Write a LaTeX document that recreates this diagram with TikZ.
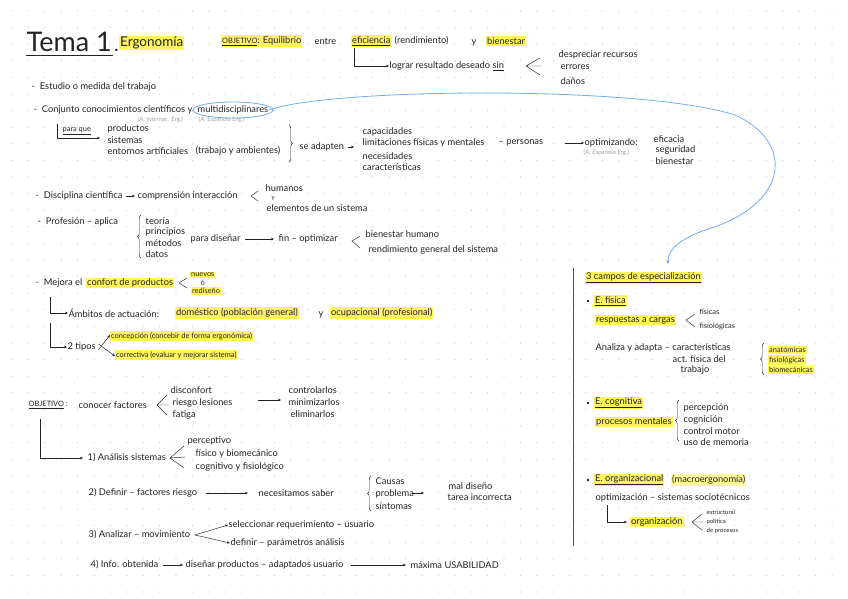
\documentclass[tikz,border=0pt]{standalone}
\usepackage{fontspec}
\setmainfont{Lato}
\usetikzlibrary{arrows.meta,decorations.pathreplacing}
\definecolor{ink}{RGB}{35,35,35}
\definecolor{hly}{RGB}{255,244,92}
\definecolor{dotc}{RGB}{200,200,200}
\definecolor{bluec}{RGB}{110,175,240}
\definecolor{grayt}{RGB}{160,160,160}
\newcommand\fs{\fontsize{9.3}{10}\selectfont}
\newcommand\fss{\fontsize{7.4}{8}\selectfont}
\newcommand\fsg{\fontsize{6}{7}\selectfont}
\tikzset{
 t/.style={anchor=west, inner sep=0.5pt, text=ink, font=\fs},
 hl/.style={t, fill=hly, inner xsep=1pt, inner ysep=1.2pt},
 gt/.style={t, text=grayt, font=\fsg},
 ln/.style={draw=ink, line width=0.45pt},
 ar/.style={ln, -{Stealth[length=3pt,width=2.6pt]}},
 brc/.style={ln, decorate, decoration={brace, amplitude=3.5pt}},
 bl/.style={draw=bluec, line width=0.8pt},
}
\begin{document}
\begin{tikzpicture}[x=1pt,y=-1pt]
\useasboundingbox (0,0) rectangle (848,599);
\fill[white] (0,0) rectangle (848,599);
\foreach \i in {0,...,50} \foreach \j in {0,...,35} \fill[dotc] ({12+16.4*\i},{11+16.6*\j}) circle (0.6);

% ---------- title
\node[t, font=\fontsize{27}{27}\selectfont] (tema) at (26,42) {Tema 1};
\draw[ink, line width=1.6pt] ([yshift=-3pt]tema.south west) -- ([yshift=-3pt]tema.south east);
\node[t, font=\fontsize{20}{20}\selectfont, anchor=base west] (punto) at ([xshift=1pt]tema.base east) {.};
\node[hl, font=\fontsize{13.5}{14}\selectfont] (ergo) at (119,43) {Ergonomía};

% ---------- objetivo 1
\node[hl] (obj1) at (221,41) {{\fss\underline{OBJETIVO}}: Equilibrio};
\node[t] (entre) at (314,41) {entre};
\node[hl] (efic) at (351,41) {\underline{eficiencia}};
\node[t] (rend) at (394,41) {(rendimiento)};
\node[t] (y1) at (471,43) {y};
\node[hl] (bien) at (486,41) {bienestar};
\node[t] (lograr) at (389,66) {lograr resultado deseado \underline{sin}};
\draw[ar] ([xshift=3pt,yshift=-1pt]efic.south west) |- (lograr.west);
\coordinate (sinf) at (526,66);
\coordinate (sf1) at (540,58);
\coordinate (sf2) at (541,66);
\coordinate (sf3) at (540,75);
\draw[ln] (sinf) -- (sf1) (sinf) -- (sf2) (sinf) -- (sf3);
\node[t] (desp) at (558,55) {despreciar recursos};
\node[t] (errores) at (560,67) {errores};
\node[t] (danos) at (560,81) {daños};

% ---------- estudio / conjunto
\node[t] (estudio) at (31,87) {-\ \ Estudio o medida del trabajo};
\node[t] (conj) at (33,110) {-\ \ Conjunto conocimientos científicos y};
\node[t] (multi) at (197,110) {multidisciplinares};
\draw[bl] (multi.center) ellipse (40 and 8);
\node[gt] (aie) at (137,120) {(A. Internac. Erg.)};
\node[gt] (aee) at (198,120) {(A. Española Erg.)};
\coordinate (pq0) at (57,124);
\coordinate (pq1) at (100,138);
\draw[ar] (pq0) |- (pq1);
\node[t, font=\fss] (paraque) at (62,131) {\underline{para que}};
\node[t] (productos) at (107,129) {productos};
\node[t] (sistemas) at (107,140) {sistemas};
\node[t] (entornos) at (107,151) {entornos artificiales};
\node[t] (trabamb) at (195,151) {(trabajo y ambientes)};
\coordinate (br1a) at (289,125);
\coordinate (br1b) at (289,162);
\draw[brc] (br1a) -- (br1b);
\node[t] (seadapt) at (299,147) {se adapten};
\node[t] (capac) at (362,132) {capacidades};
\node[t] (limit) at (362,143) {limitaciones físicas y mentales};
\node[t] (personas) at (498,143) {– personas};
\node[t] (necesid) at (362,156) {necesidades};
\node[t] (caract) at (362,167) {características};
\coordinate (sa1) at (354,147);
\draw[ar] ([xshift=3pt]seadapt.east) -- (sa1);
\coordinate (op0) at (565,143);
\node[t] (optim) at (584,143) {optimizando:};
\draw[ar] (op0) -- (optim.west);
\node[gt] (aee2) at (583,153) {(A. Española Erg.)};
\node[t] (eficacia) at (653,139) {eficacia};
\node[t] (segur) at (655,150) {seguridad};
\node[t] (bien2) at (655,161) {bienestar};

% ---------- disciplina
\node[t] (discip) at (35,196) {-\ \ Disciplina científica};
\node[t] (compr) at (137,196) {comprensión interacción};
\draw[ar] ([xshift=3pt]discip.east) -- ([xshift=-2pt]compr.west);
\coordinate (dc0) at (251,196);
\coordinate (dc1) at (258,191);
\coordinate (dc2) at (258,201);
\draw[ln] (dc1) -- (dc0) -- (dc2);
\node[t] (humanos) at (265,188) {humanos};
\node[t, font=\fsg] (yh) at (271,198.5) {y};
\node[t] (elem) at (266,208) {elementos de un sistema};

% ---------- profesión
\node[t] (prof) at (37,222) {-\ \ Profesión – aplica};
\coordinate (br2a) at (141,258);
\coordinate (br2b) at (141,215);
\draw[brc] (br2a) -- (br2b);
\node[t] (teoria) at (145,221) {teoría};
\node[t] (princ) at (145,232) {principios};
\node[t] (metod) at (145,243) {métodos};
\node[t] (datos) at (145,254) {datos};
\node[t] (parad) at (190,239) {para diseñar};
\node[t] (fin) at (278,239) {fin – optimizar};
\draw[ar] ([xshift=4pt]parad.east) -- ([xshift=-4pt]fin.west);
\coordinate (fo0) at (352,241);
\coordinate (fo1) at (360,236);
\coordinate (fo2) at (360,248);
\draw[ln] (fo1) -- (fo0) -- (fo2);
\node[t] (bienh) at (365,234) {bienestar humano};
\node[t] (rendg) at (368,250) {rendimiento general del sistema};

% ---------- mejora
\node[t] (mejora) at (35,283) {-\ \ Mejora el};
\node[hl] (confort) at (86,283) {confort de productos};
\coordinate (mj0) at (179,283);
\coordinate (mj1) at (187,278);
\coordinate (mj2) at (187,288);
\draw[ln] (mj1) -- (mj0) -- (mj2);
\node[hl, font=\fss] (nuevos) at (190,275) {nuevos};
\node[t, font=\fss] (oo) at (200,283) {ó};
\node[hl, font=\fss] (redis) at (191,291) {rediseño};
\node[t] (ambitos) at (68,313) {Ámbitos de actuación:};
\coordinate (am0) at (50,297);
\draw[ar] (am0) |- (ambitos.west);
\node[hl] (domest) at (175,313) {doméstico (población general)};
\node[t] (ydom) at (318,315) {y};
\node[hl] (ocup) at (330,313) {ocupacional (profesional)};
\node[t] (tipos) at (67,347) {2 tipos};
\coordinate (tp0) at (50,323);
\draw[ar] (tp0) |- (tipos.west);
\node[hl, font=\fss] (concep) at (110,336) {concepción (concebir de forma ergonómica)};
\node[hl, font=\fss] (correct) at (115,355) {correctiva (evaluar y mejorar sistema)};
\draw[ar] ([xshift=2pt,yshift=-3pt]tipos.east) -- ([yshift=1pt]concep.west);
\draw[ar] ([xshift=2pt,yshift=3pt]tipos.east) -- ([yshift=-1pt]correct.west);

% ---------- objetivo 2
\node[t, font=\fss] (obj2) at (28,405) {\underline{OBJETIVO}\ :};
\node[t] (conocer) at (78,405) {conocer factores};
\coordinate (cf0) at (157,405);
\coordinate (cf1) at (167,395);
\coordinate (cf2) at (168,405);
\coordinate (cf3) at (167,415);
\draw[ln] (cf0) -- (cf1) (cf0) -- (cf2) (cf0) -- (cf3);
\node[t] (discon) at (170,390) {disconfort};
\node[t] (riesgo) at (172,403) {riesgo lesiones};
\node[t] (fatiga) at (172,415) {fatiga};
\coordinate (cm0) at (258,400);
\node[t] (control) at (288,390) {controlarlos};
\node[t] (minim) at (288,402) {minimizarlos};
\node[t] (elim) at (290,414) {eliminarlos};
\coordinate (cm1) at (281,400);
\draw[ar] (cm0) -- (cm1);
\node[t] (analisis) at (87,458) {1) Análisis sistemas};
\coordinate (ob0) at (40,419);
\draw[ar] (ob0) |- ([xshift=-4pt]analisis.west);
\coordinate (an0) at (170,458);
\coordinate (an1) at (184,446);
\coordinate (an2) at (185,457);
\coordinate (an3) at (184,468);
\draw[ln] (an0) -- (an1) (an0) -- (an2) (an0) -- (an3);
\node[t] (percep) at (187,441) {perceptivo};
\node[t] (fisico) at (195,454) {físico y biomecánico};
\node[t] (cognit) at (195,467) {cognitivo y fisiológico};

\node[t] (definir) at (88,493) {2) Definir – factores riesgo};
\node[t] (necesit) at (258,493) {necesitamos saber};
\draw[ar] ([xshift=8pt]definir.east) -- ([xshift=-10pt]necesit.west);
\coordinate (br3a) at (371,511);
\coordinate (br3b) at (371,476);
\draw[brc] (br3a) -- (br3b);
\node[t] (causas) at (375,481) {Causas};
\node[t] (problema) at (375,494) {problema};
\node[t] (sintomas) at (375,506) {síntomas};
\coordinate (cs0) at (412,493);
\coordinate (cs1) at (424,493);
\draw[ar] (cs0) -- (cs1);
\node[t] (maldis) at (448,486) {mal diseño};
\node[t] (tarea) at (447,497) {tarea incorrecta};

\node[t] (analiz) at (88,535) {3) Analizar – movimiento};
\node[t] (selecc) at (228,525) {seleccionar requerimiento – usuario};
\node[t] (defin) at (230,543) {definir – parámetros análisis};
\draw[ar] ([xshift=4pt]analiz.east) -- (selecc.west);
\draw[ar] ([xshift=4pt]analiz.east) -- (defin.west);

\node[t] (info) at (90,565) {4) Info. obtenida};
\node[t] (disen) at (185,565) {diseñar productos – adaptados usuario};
\node[t] (maxima) at (410,565) {máxima USABILIDAD};
\draw[ar] ([xshift=4pt]info.east) -- ([xshift=-2pt]disen.west);
\draw[ar] ([xshift=7pt]disen.east) -- ([xshift=-4pt]maxima.west);

% ---------- right column
\coordinate (vl0) at (573,268);
\coordinate (vl1) at (573,546);
\draw[ink!80, line width=0.8pt] (vl0) -- (vl1);
\node[hl] (campos) at (585,278) {\underline{3 campos de especialización}};
\coordinate (cp) at (668,264);
\draw[bl, -{Stealth[length=4pt,width=3.5pt]}] (multi.east) .. controls (330,88) and (640,85) .. (735,115)
  .. controls (795,142) and (790,205) .. (705,230) .. controls (678,240) and (668,250) .. (cp);

\fill[ink] (588,301) circle (1.3);
\node[hl] (efis) at (594,301) {\underline{E. física}};
\node[hl] (resp) at (595,320) {respuestas a cargas};
\coordinate (rc0) at (686,320);
\coordinate (rc1) at (695,314);
\coordinate (rc2) at (695,327);
\draw[ln] (rc1) -- (rc0) -- (rc2);
\node[t, font=\fss] (fisicas) at (699,312) {físicas};
\node[t, font=\fss] (fisiol) at (699,326) {fisiológicas};
\node[t] (analiza) at (595,348) {Analiza y adapta – características};
\node[t] (actf) at (672,359) {act. física del};
\node[t] (trabajo) at (680,370) {trabajo};
\coordinate (br4a) at (764,375);
\coordinate (br4b) at (764,343);
\draw[brc] (br4a) -- (br4b);
\node[hl, font=\fss] (anat) at (768,350) {anatómicas};
\node[hl, font=\fss] (fisio2) at (768,360) {fisiológicas};
\node[hl, font=\fss] (biomec) at (768,370) {biomecánicas};

\fill[ink] (588,403) circle (1.3);
\node[hl] (ecog) at (594,403) {\underline{E. cognitiva}};
\node[hl] (procesos) at (595,422) {procesos mentales};
\coordinate (br5a) at (679,441);
\coordinate (br5b) at (679,400);
\draw[brc] (br5a) -- (br5b);
\node[t] (percepc) at (683,408) {percepción};
\node[t] (cognic) at (683,420) {cognición};
\node[t] (contm) at (683,431) {control motor};
\node[t] (usom) at (683,442) {uso de memoria};

\fill[ink] (588,480) circle (1.3);
\node[hl] (eorg) at (594,480) {\underline{E. organizacional}};
\node[hl, fill=hly!60] (macro) at (671,480) {(macroergonomía)};
\node[t] (optim2) at (595,498) {optimización – sistemas sociotécnicos};
\node[hl] (organiz) at (630,522) {organización};
\coordinate (og0) at (607,505);
\draw[ar] (og0) |- ([xshift=-3pt]organiz.west);
\coordinate (or0) at (692,522);
\coordinate (or1) at (702,514);
\coordinate (or2) at (703,522);
\coordinate (or3) at (702,530);
\draw[ln] (or0) -- (or1) (or0) -- (or2) (or0) -- (or3);
\node[t, font=\fsg] (estruc) at (706,512) {estructural};
\node[t, font=\fsg] (polit) at (706,522) {política};
\node[t, font=\fsg] (deproc) at (706,531) {de procesos};
\end{tikzpicture}
\end{document}
